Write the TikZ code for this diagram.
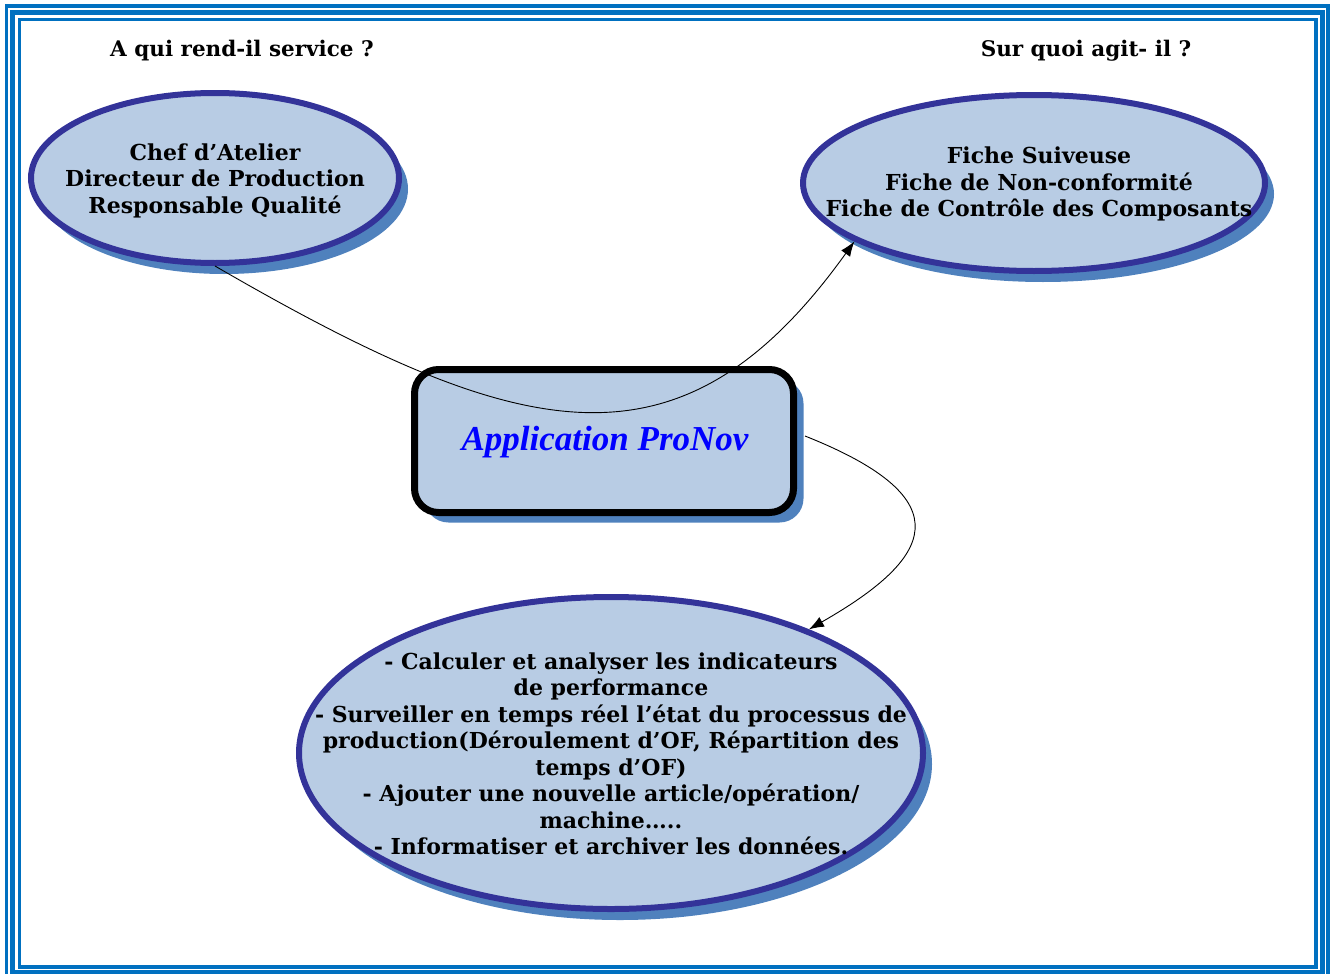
\documentclass[tikz,border=0pt]{standalone}
\usepackage{fontspec}
\setmainfont{DejaVu Serif}
\newfontfamily\appfont{Liberation Serif}
\usetikzlibrary{shapes.geometric,shadows,arrows.meta}
\definecolor{fillblue}{RGB}{184,204,228}
\definecolor{edgeblue}{RGB}{51,51,153}
\definecolor{shadowblue}{RGB}{79,129,189}
\definecolor{frameblue}{RGB}{0,112,192}
\definecolor{appblue}{RGB}{0,0,255}
\begin{document}
\begin{tikzpicture}[x=1pt,y=-1pt,
  bubble/.style={ellipse, draw=edgeblue, line width=6pt, fill=fillblue, inner sep=0pt,
    drop shadow={shadow xshift=9pt, shadow yshift=-11pt, fill=shadowblue, opacity=1}},
  bubbletext/.style={align=center, inner sep=0pt, font=\bfseries\fontsize{22}{26.5}\selectfont},
  appbox/.style={rectangle, rounded corners=24pt, draw=black, line width=7pt, fill=fillblue,
    inner sep=0pt,
    drop shadow={shadow xshift=10pt, shadow yshift=-10pt, fill=shadowblue, opacity=1}},
  apptext/.style={font=\appfont\bfseries\itshape\fontsize{35}{40}\selectfont, text=appblue, inner sep=0pt},
  title/.style={font=\bfseries\fontsize{21.5}{25}\selectfont, inner sep=0pt},
  conn/.style={draw=black, line width=0.9pt, -{Latex[length=15pt,width=11pt]}},
  frame/.style={draw=frameblue}
]
\useasboundingbox (0,0) rectangle (1330,974);
% page frame
\draw[frame, line width=3.5pt] (6.5,6) rectangle (1328,980);
\draw[frame, line width=4.5pt] (12.5,12.5) rectangle (1322.5,972.5);
\draw[frame, line width=3.5pt] (19.5,19.5) rectangle (1316,967);

% titles
\node[title] (t1) at (242,51) {A qui rend-il service ?};
\node[title] (t2) at (1086,51) {Sur quoi agit- il ?};

% ellipses
\node[bubble, minimum width=368pt, minimum height=170pt] (L) at (215,178) {};
\node[bubbletext] (Lt) at (215,180.5) {Chef d’Atelier\\Directeur de Production\\Responsable Qualité};
\node[bubble, minimum width=462pt, minimum height=176pt] (R) at (1034,183) {};
\node[bubbletext] (Rt) at (1039,184) {Fiche Suiveuse\\Fiche de Non-conformité\\Fiche de Contrôle des Composants};
\node[bubble, minimum width=624pt, minimum height=312pt] (B) at (611,753) {};
\node[bubbletext] (Bt) at (611,754)
  {- Calculer et analyser les indicateurs\\de performance\\- Surveiller en temps réel l’état du processus de\\production(Déroulement d’OF, Répartition des\\temps d’OF)\\- Ajouter une nouvelle article/opération/\\machine…..\\- Informatiser et archiver les données.};

% central box
\node[appbox, minimum width=379pt, minimum height=143pt] (A) at (604,441) {};
\node[apptext] (At) at (605,442) {Application ProNov};

% connectors
\draw[conn] (L.south) .. controls (522,444) and (681,483) .. (R.198.5);
\draw[conn] ([xshift=8pt,yshift=5pt]A.east) .. controls (966,500) and (932,559) .. (B.32.7);
\end{tikzpicture}
\end{document}
